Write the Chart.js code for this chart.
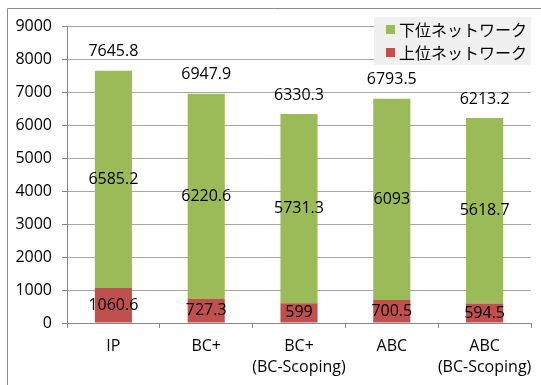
<!DOCTYPE html>
<html>
<head>
<meta charset="utf-8">
<script src="https://cdn.jsdelivr.net/npm/chart.js@4/dist/chart.umd.min.js"></script>
<style>
  html, body { margin: 0; padding: 0; background: #fff; }
</style>
</head>
<body>
<canvas id="myChart" width="541" height="385"></canvas>
<script>
// values
const categories = ['IP', 'BC+', ['BC+', '(BC-Scoping)'], 'ABC', ['ABC', '(BC-Scoping)']];
const upperNet = [1060.6, 727.3, 599, 700.5, 594.5];      // 上位ネットワーク (red, bottom)
const lowerNet = [6585.2, 6220.6, 5731.3, 6093, 5618.7];  // 下位ネットワーク (green, top)
const totals = [7645.8, 6947.9, 6330.3, 6793.5, 6213.2];
const yMin = 0;
const yMax = 9000;
const yStep = 1000;

const GREEN = '#9BBB59';
const RED = '#C0504D';
const GRID = '#A6A6A6';
const AXIS = '#868686';
const FONT = "'Open Sans', 'Liberation Sans', sans-serif";
const JP_FONT = "'Noto Sans CJK JP', sans-serif";

Chart.defaults.font.family = FONT;
Chart.defaults.font.size = 16;
Chart.defaults.color = '#000';

// outer frame (only left and top edges are in view)
const frame = {
  id: 'frame',
  beforeDraw(chart) {
    const ctx = chart.ctx;
    ctx.save();
    ctx.strokeStyle = '#8C8C8C';
    ctx.lineWidth = 1;
    ctx.beginPath();
    ctx.moveTo(7.5, chart.height);
    ctx.lineTo(7.5, 8.5);
    ctx.lineTo(chart.width, 8.5);
    ctx.stroke();
    ctx.restore();
  },
};

// legend sitting inside the plot, over the grid
const insideLegend = {
  id: 'insideLegend',
  beforeDatasetsDraw(chart) {
    const ctx = chart.ctx;
    const area = chart.chartArea;
    const x0 = area.right - 157;
    const y0 = 17;
    ctx.save();
    ctx.fillStyle = '#F0F0F0';
    ctx.fillRect(x0, y0, 157, 48);
    const items = chart.data.datasets.slice().reverse();
    ctx.font = '16px ' + JP_FONT;
    ctx.textBaseline = 'middle';
    ctx.textAlign = 'left';
    items.forEach((ds, i) => {
      const cy = y0 + 12 + i * 23;
      ctx.fillStyle = ds.backgroundColor;
      ctx.fillRect(x0 + 12, cy - 4, 9, 9);
      ctx.fillStyle = '#000';
      ctx.fillText(ds.label, x0 + 25, cy + 1);
    });
    ctx.restore();
  },
};

// values in the middle of each segment, totals above
const barLabels = {
  id: 'barLabels',
  afterDatasetsDraw(chart) {
    const ctx = chart.ctx;
    ctx.save();
    ctx.font = '16px ' + FONT;
    ctx.fillStyle = '#000';
    ctx.textAlign = 'center';
    ctx.textBaseline = 'middle';
    chart.data.datasets.forEach((ds, di) => {
      const meta = chart.getDatasetMeta(di);
      meta.data.forEach((bar, i) => {
        ctx.fillText(String(ds.data[i]), bar.x, (bar.y + bar.base) / 2);
      });
    });
    const top = chart.getDatasetMeta(chart.data.datasets.length - 1);
    top.data.forEach((bar, i) => {
      ctx.fillText(String(totals[i]), bar.x, bar.y - 19);
    });
    ctx.restore();
  },
};

const data = {
  labels: categories,
  datasets: [
    {
      label: '上位ネットワーク',
      data: upperNet,
      backgroundColor: RED,
    },
    {
      label: '下位ネットワーク',
      data: lowerNet,
      backgroundColor: GREEN,
    },
  ],
};

const config = {
  type: 'bar',
  data,
  options: {
    responsive: false,
    animation: false,
    devicePixelRatio: 1,
    layout: { padding: { top: 26, right: 10, left: 0, bottom: 0 } },
    datasets: {
      bar: { categoryPercentage: 1, barPercentage: 0.4 },
    },
    plugins: {
      legend: { display: false },
      tooltip: { enabled: false },
    },
    scales: {
      x: {
        stacked: true,
        grid: {
          display: true,
          drawOnChartArea: false,
          drawTicks: true,
          tickLength: 5,
          color: AXIS,
        },
        border: { display: true, color: AXIS },
        ticks: { padding: 8, maxRotation: 0, autoSkip: false, font: { size: 16, lineHeight: 1.3 } },
        afterFit(scale) { scale.height = 62; },
      },
      y: {
        stacked: true,
        min: yMin,
        max: yMax,
        grid: { color: GRID, tickLength: 5, tickColor: AXIS },
        border: { display: true, color: AXIS },
        ticks: { stepSize: yStep, padding: 10, callback: (v) => String(v) },
        afterFit(scale) { scale.width = 67; },
      },
    },
  },
  plugins: [frame, insideLegend, barLabels],
};

new Chart(document.getElementById('myChart'), config);
</script>
</body>
</html>
